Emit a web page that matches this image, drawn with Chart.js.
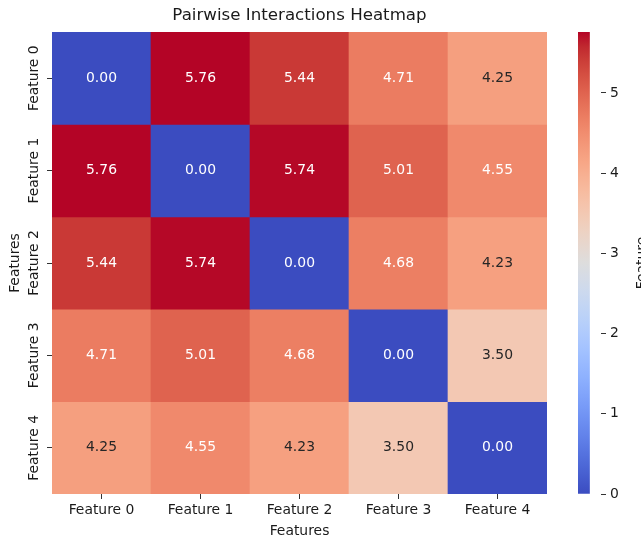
<!DOCTYPE html>
<html>
<head>
  <meta charset="UTF-8">
  <title>Pairwise Interactions Heatmap</title>
  <script src="https://cdn.jsdelivr.net/npm/chart.js"></script>
  <style>
    * { margin: 0; padding: 0; box-sizing: border-box; }
    body { background: #fff; width: 641px; height: 541px; overflow: hidden; position: relative; }
    #heat { position: absolute; left: 0; top: 0; }
    #cbar { position: absolute; left: 570px; top: 0; }
  </style>
</head>
<body>
  <canvas id="heat" width="641" height="541"></canvas>
  <canvas id="cbar" width="71" height="541"></canvas>

  <script>
    // --- Data ---
    const features = ['Feature 0', 'Feature 1', 'Feature 2', 'Feature 3', 'Feature 4'];
    const rowFeature0 = [0.00, 5.76, 5.44, 4.71, 4.25];
    const rowFeature1 = [5.76, 0.00, 5.74, 5.01, 4.55];
    const rowFeature2 = [5.44, 5.74, 0.00, 4.68, 4.23];
    const rowFeature3 = [4.71, 5.01, 4.68, 0.00, 3.50];
    const rowFeature4 = [4.25, 4.55, 4.23, 3.50, 0.00];
    const rows = [rowFeature0, rowFeature1, rowFeature2, rowFeature3, rowFeature4];
    const colorbarTicks = [0, 1, 2, 3, 4, 5];
    const vmin = 0;
    const vmax = 5.76;

    // --- coolwarm colormap (33 samples) ---
    const COOLWARM = [
      [59,76,192],[68,90,204],[77,104,215],[87,117,225],[98,130,234],[108,142,241],
      [119,154,247],[130,165,251],[141,176,254],[152,185,255],[163,194,255],[174,201,253],
      [184,208,249],[194,213,244],[204,217,238],[213,219,230],[221,221,221],[229,216,209],
      [236,211,197],[241,204,184],[245,196,172],[247,187,159],[247,177,147],[247,166,134],
      [244,154,123],[241,141,111],[236,127,99],[229,112,88],[222,96,77],[213,80,66],
      [203,62,56],[192,40,47],[180,4,38]
    ];

    function cmapRGB(v) {
      let t = (v - vmin) / (vmax - vmin);
      t = Math.max(0, Math.min(1, t)) * (COOLWARM.length - 1);
      const i = Math.min(Math.floor(t), COOLWARM.length - 2);
      const f = t - i;
      const a = COOLWARM[i], b = COOLWARM[i + 1];
      return a.map((c, k) => Math.round(c + (b[k] - c) * f));
    }
    const rgbStr = (c) => `rgb(${c[0]},${c[1]},${c[2]})`;

    // same rule seaborn uses to pick annotation colour
    function textColor(v) {
      const lin = cmapRGB(v).map(c => {
        c = c / 255;
        return c <= 0.03928 ? c / 12.92 : Math.pow((c + 0.055) / 1.055, 2.4);
      });
      const lum = 0.2126 * lin[0] + 0.7152 * lin[1] + 0.0722 * lin[2];
      return lum > 0.408 ? '#262626' : '#fff';
    }

    const FONT = 'DejaVu Sans';
    const FS = 13.9;
    const INK = '#1a1a1a';
    Chart.defaults.font.family = FONT;
    Chart.defaults.color = INK;

    // --- Plugins: cell labels + rotated y tick labels ---
    const cellText = {
      id: 'cellText',
      afterDatasetsDraw(chart) {
        const { ctx, scales: { x, y } } = chart;
        ctx.save();
        ctx.font = `${FS}px "${FONT}"`;
        ctx.textAlign = 'center';
        ctx.textBaseline = 'middle';
        rows.forEach((row, r) => {
          row.forEach((v, c) => {
            ctx.fillStyle = textColor(v);
            ctx.fillText(v.toFixed(2), x.getPixelForValue(c), y.getPixelForValue(r + 0.5));
          });
        });
        ctx.restore();
      }
    };

    const yLabels = {
      id: 'yLabels',
      afterDraw(chart) {
        const { ctx, scales: { y } } = chart;
        ctx.save();
        ctx.font = `${FS}px "${FONT}"`;
        ctx.fillStyle = INK;
        ctx.textAlign = 'center';
        ctx.textBaseline = 'middle';
        features.forEach((lab, i) => {
          ctx.save();
          ctx.translate(34, y.getPixelForValue(i + 0.5));
          ctx.rotate(-Math.PI / 2);
          ctx.fillText(lab, 0, 0);
          ctx.restore();
        });
        ctx.restore();
      }
    };

    // --- Heatmap ---
    new Chart(document.getElementById('heat'), {
      type: 'bar',
      data: {
        labels: features,
        datasets: rows.map((row, r) => ({
          label: features[r],
          data: row.map(() => [r, r + 1]),
          backgroundColor: row.map(v => rgbStr(cmapRGB(v))),
          borderWidth: 0,
          barPercentage: 1,
          categoryPercentage: 1,
          grouped: false,
        }))
      },
      options: {
        responsive: false,
        devicePixelRatio: 1,
        animation: false,
        layout: { padding: { left: 0, right: 94, top: 0, bottom: 0 } },
        plugins: {
          legend: { display: false },
          tooltip: { enabled: false },
          title: {
            display: true,
            text: 'Pairwise Interactions Heatmap',
            fullSize: false,
            color: INK,
            font: { size: 16.67, weight: 'normal', family: FONT },
            padding: { top: 6, bottom: 6 },
          },
        },
        scales: {
          x: {
            type: 'category',
            offset: true,
            grid: { display: true, drawOnChartArea: false, offset: false, tickLength: 5, tickColor: '#333', tickWidth: 1 },
            border: { display: false },
            ticks: { font: { size: FS }, color: INK, padding: 3, maxRotation: 0 },
            title: { display: true, text: 'Features', font: { size: FS }, color: INK, padding: { top: 0, bottom: 1 } },
            afterFit: (s) => { s.height = 47; },
          },
          y: {
            type: 'linear',
            min: 0,
            max: 5,
            reverse: true,
            afterBuildTicks: (s) => { s.ticks = features.map((_, i) => ({ value: i + 0.5 })); },
            grid: { display: true, drawOnChartArea: false, tickLength: 5, tickColor: '#333', tickWidth: 1 },
            border: { display: false },
            ticks: { display: false },
            title: { display: true, text: 'Features', font: { size: FS }, color: INK, padding: { top: 7.5, bottom: 0 } },
            afterFit: (s) => { s.width = 52; },
          },
        },
      },
      plugins: [cellText, yLabels],
    });

    // --- Colorbar ---
    const cbarLabel = {
      id: 'cbarLabel',
      afterDraw(chart) {
        const { ctx } = chart;
        ctx.save();
        ctx.font = `${FS}px "${FONT}"`;
        ctx.fillStyle = INK;
        ctx.textAlign = 'center';
        ctx.textBaseline = 'alphabetic';
        ctx.translate(76, 263);
        ctx.rotate(-Math.PI / 2);
        ctx.fillText('Feature', 0, 0);
        ctx.restore();
      }
    };

    new Chart(document.getElementById('cbar'), {
      type: 'bar',
      data: {
        labels: [''],
        datasets: [{
          data: [[vmin, vmax]],
          backgroundColor: (c) => {
            const area = c.chart.chartArea;
            if (!area) return null;
            const g = c.chart.ctx.createLinearGradient(0, area.bottom, 0, area.top);
            COOLWARM.forEach((col, i) => g.addColorStop(i / (COOLWARM.length - 1), rgbStr(col)));
            return g;
          },
          borderWidth: 0,
          barPercentage: 1,
          categoryPercentage: 1,
        }]
      },
      options: {
        responsive: false,
        devicePixelRatio: 1,
        animation: false,
        layout: { padding: { left: 8, right: 0, top: 32, bottom: 47 } },
        plugins: { legend: { display: false }, tooltip: { enabled: false } },
        scales: {
          x: { display: false, offset: false },
          y: {
            position: 'right',
            min: vmin,
            max: vmax,
            afterBuildTicks: (s) => { s.ticks = colorbarTicks.map(v => ({ value: v })); },
            grid: { display: true, drawOnChartArea: false, tickLength: 5, tickColor: '#333', tickWidth: 1 },
            border: { display: false },
            ticks: { font: { size: FS }, color: INK, padding: 4 },
            afterFit: (s) => { s.width = 40; },
          },
        },
      },
      plugins: [cbarLabel],
    });
  </script>
</body>
</html>
